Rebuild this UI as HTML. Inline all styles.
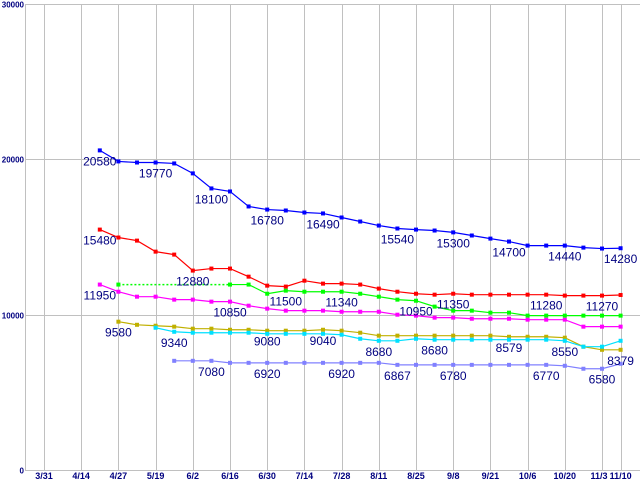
<!DOCTYPE html>
<html><head><meta charset="utf-8"><style>
html,body{margin:0;padding:0;background:#fff;}
svg{display:block;font-family:"Liberation Sans",sans-serif;}
</style></head><body>
<svg id="chart" width="640" height="480" viewBox="0 0 640 480"></svg>
<script>
const xTicks=["3/31","4/14","4/27","5/19","6/2","6/16","6/30","7/14","7/28","8/11","8/25","9/8","9/21","10/6","10/20","11/3","11/10"];
const xTickIdx=[0,2,4,6,8,10,12,14,16,18,20,22,24,26,28,30,31];
const yTicks=[0,10000,20000,30000];
const blueStart=3;
const blueVals=[20580,19870,19800,19800,19740,19100,18130,17935,16970,16770,16710,16580,16520,16260,16000,15740,15550,15480,15420,15300,15100,14900,14710,14450,14450,14450,14320,14260,14280];
const blueLabels=[[3,"20580"],[6,"19770"],[9,"18100"],[12,"16780"],[15,"16490"],[19,"15540"],[22,"15300"],[25,"14700"],[28,"14440"],[31,"14280"]];
const redStart=3;
const redVals=[15480,14970,14770,14060,13870,12840,12970,12970,12450,11870,11810,12190,12000,12000,11940,11680,11480,11350,11290,11350,11290,11290,11290,11290,11290,11230,11230,11230,11270];
const redLabels=[[3,"15480"],[8,"12880"],[22,"11350"],[27,"11280"],[30,"11270"]];
const greenStart=10;
const greenVals=[11940,11940,11350,11550,11480,11480,11480,11350,11160,10970,10900,10520,10260,10260,10130,10130,9940,9940,9940,9940,9940,9940];
const greenLabels=[[13,"11500"],[16,"11340"],[20,"10950"]];
const greenDotFrom=4, greenDotVal=11940;
const magStart=3;
const magVals=[11940,11480,11160,11160,10970,10970,10840,10840,10580,10390,10260,10260,10260,10190,10190,10190,10000,9940,9810,9810,9740,9740,9740,9680,9680,9680,9230,9230,9230];
const magLabels=[[3,"11950"],[10,"10850"]];
const oliveStart=4;
const oliveVals=[9550,9350,9290,9230,9100,9100,9030,9030,8970,8970,8970,9030,8970,8840,8650,8650,8650,8650,8650,8650,8650,8580,8580,8580,8520,7940,7740,7740];
const oliveLabels=[[4,"9580"],[12,"9080"],[15,"9040"],[25,"8579"],[31,"8379"]];
const cyanStart=6;
const cyanVals=[9160,8900,8840,8840,8840,8840,8770,8770,8770,8770,8710,8450,8320,8320,8450,8390,8390,8390,8390,8390,8390,8390,8320,7940,7940,8320];
const cyanLabels=[[7,"9340"],[18,"8680"],[21,"8680"],[28,"8550"]];
const lavStart=7;
const lavVals=[7030,7030,7030,6900,6900,6900,6900,6900,6900,6900,6900,6900,6770,6770,6770,6770,6770,6770,6770,6770,6770,6710,6520,6520,6840];
const lavLabels=[[9,"7080"],[12,"6920"],[16,"6920"],[19,"6867"],[22,"6780"],[27,"6770"],[30,"6580"]];

const svg=document.getElementById('chart');
const NS="http://www.w3.org/2000/svg";
const X=k=>44+18.6*k;
const Y=v=>470-v*0.01553;
function mk(tag,attrs,parent){const e=document.createElementNS(NS,tag);for(const a in attrs)e.setAttribute(a,attrs[a]);(parent||svg).appendChild(e);return e;}

const grid=mk('g',{});


mk('line',{x1:25.5,y1:4,x2:25.5,y2:470,stroke:'#c0c0c0'},grid);
xTickIdx.forEach((k,i)=>{
  const l=mk('line',{x1:Math.round(X(k))+0.5,y1:4,x2:Math.round(X(k))+0.5,y2:470,stroke:'#c0c0c0'},grid);
  
  
  const t=mk('text',{x:X(k)-(i==15?3:0),y:479,'text-anchor':'middle','font-size':'9','font-weight':'bold',fill:'#000080'});
  t.textContent=xTicks[i];
  
  
});
yTicks.forEach(v=>{
  const yy=Math.round(Y(v))+0.5;
  const l=mk('line',{x1:25,y1:yy,x2:640,y2:yy,stroke:'#c0c0c0'},grid);
  
  
  const t=mk('text',{x:24,y:yy+3,'text-anchor':'end','font-size':'8','font-weight':'bold',fill:'#000080'});
  t.textContent=String(v);
  
  
});

function series(name,color,start,vals,labels){
  const g=mk('g',{});
  
  
  const pts=vals.map((v,i)=>[X(start+i),Y(v)]);
  mk('polyline',{points:pts.map(p=>p.join(',')).join(' '),fill:'none',stroke:color,'stroke-width':1.2},g);
  pts.forEach(p=>{
    const r=mk('rect',{x:p[0]-2,y:p[1]-2,width:4,height:4,fill:color},g);
    
    
  });
  labels.forEach(([k,txt])=>{
    const v=vals[k-start];
    const t=mk('text',{x:X(k),y:Y(v)+15,'text-anchor':'middle','font-size':'12',fill:'#000080'},g);
    t.textContent=txt;
    
    
  });
  return g;
}
const gd=mk('line',{x1:X(greenDotFrom),y1:Y(greenDotVal),x2:X(greenStart),y2:Y(greenDotVal),stroke:'#00ff00','stroke-width':1.5,'stroke-dasharray':'2,2'});


const gp=mk('rect',{x:X(greenDotFrom)-2,y:Y(greenDotVal)-2,width:4,height:4,fill:'#00ff00'});


series('lavender-series','#8080ff',lavStart,lavVals,lavLabels);
series('olive-series','#c0b000',oliveStart,oliveVals,oliveLabels);
series('cyan-series','#00e0ff',cyanStart,cyanVals,cyanLabels);
series('magenta-series','#ff00ff',magStart,magVals,magLabels);
series('green-series','#00ff00',greenStart,greenVals,greenLabels);
series('red-series','#ff0000',redStart,redVals,redLabels);
series('blue-series','#0000ff',blueStart,blueVals,blueLabels);
</script>
</body></html>
